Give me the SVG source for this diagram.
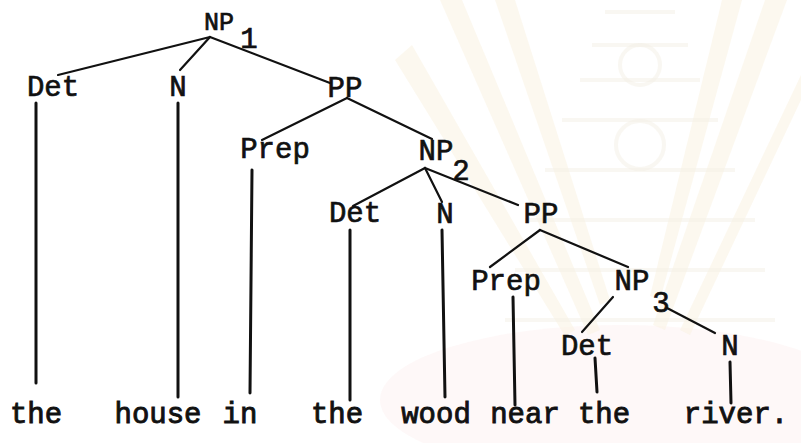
<svg xmlns="http://www.w3.org/2000/svg" width="801" height="443" viewBox="0 0 801 443">
  <style>
    .lbl { font-family: "Liberation Mono", "Courier New", monospace; font-size: 29px; fill: #111; stroke: #111; stroke-width: 0.7; text-anchor: middle; }
    .word { font-family: "Liberation Mono", "Courier New", monospace; font-size: 29px; fill: #111; stroke: #111; stroke-width: 0.9; text-anchor: middle; }
    .edge { stroke: #111; stroke-width: 2.2; stroke-linecap: round; fill: none; }
    .stem { stroke: #111; stroke-width: 3; stroke-linecap: round; fill: none; }
    .ray { fill: #faf3e1; opacity: 0.55; }
    .emb { fill: none; stroke: #f4efe6; stroke-width: 4; opacity: 0.5; }
  </style>

  <rect width="801" height="443" fill="#ffffff"/>

  <!-- faint background seal -->
  <g id="seal">
    <ellipse cx="620" cy="400" rx="240" ry="75" fill="#fdf5f5" opacity="0.7"/>
    <polygon class="ray" points="440,0 462,0 600,330 588,335"/>
    <polygon class="ray" points="495,0 515,0 610,300 600,305"/>
    <polygon class="ray" points="395,60 412,45 575,330 565,336"/>
    <polygon class="ray" points="765,0 787,0 665,330 653,325"/>
    <polygon class="ray" points="722,0 742,0 660,300 650,296"/>
    <polygon class="ray" points="801,75 801,100 690,335 680,330"/>
    <path class="emb" d="M605,12 L675,12 M592,45 L688,45 M580,80 L700,80 M562,120 L718,120 M545,170 L735,170 M525,220 L755,220 M515,270 L765,270 M505,320 L775,320"/>
    <circle cx="640" cy="65" r="20" class="emb"/>
    <circle cx="640" cy="145" r="24" class="emb"/>
  </g>

  <!-- connectors -->
  <g id="connectors">
    <line class="edge" x1="210" y1="37" x2="58" y2="75"/>
    <line class="edge" x1="210" y1="37" x2="180" y2="70"/>
    <line class="edge" x1="210" y1="37" x2="330" y2="83"/>
    <line class="stem" x1="36" y1="103" x2="36" y2="383"/>
    <line class="stem" x1="178" y1="103" x2="178" y2="397"/>
    <line class="edge" x1="347" y1="98" x2="262" y2="140"/>
    <line class="edge" x1="347" y1="98" x2="432" y2="139"/>
    <line class="stem" x1="252" y1="170" x2="250" y2="393"/>
    <line class="edge" x1="425" y1="168" x2="353" y2="206"/>
    <line class="edge" x1="425" y1="168" x2="442" y2="202"/>
    <line class="edge" x1="425" y1="168" x2="518" y2="205"/>
    <line class="stem" x1="350" y1="230" x2="350" y2="400"/>
    <line class="stem" x1="442" y1="230" x2="445" y2="397"/>
    <line class="edge" x1="540" y1="230" x2="490" y2="267"/>
    <line class="edge" x1="540" y1="230" x2="628" y2="267"/>
    <line class="stem" x1="513" y1="297" x2="515" y2="405"/>
    <line class="edge" x1="613" y1="297" x2="582" y2="332"/>
    <line class="edge" x1="667" y1="308" x2="715" y2="333"/>
    <line class="stem" x1="595" y1="358" x2="597" y2="392"/>
    <line class="stem" x1="730" y1="362" x2="731" y2="403"/>
  </g>

  <!-- tree nodes -->
  <g id="np1"><text class="lbl" x="219" y="30" style="font-size:25px">NP</text><text class="lbl" x="249" y="48">1</text></g>
  <g id="det1"><text class="lbl" x="53" y="96">Det</text></g>
  <g id="n1"><text class="lbl" x="178" y="96">N</text></g>
  <g id="pp1"><text class="lbl" x="345" y="97">PP</text></g>
  <g id="prep1"><text class="lbl" x="275" y="158">Prep</text></g>
  <g id="np2"><text class="lbl" x="436" y="160">NP</text><text class="lbl" x="461" y="180">2</text></g>
  <g id="det2"><text class="lbl" x="355" y="222">Det</text></g>
  <g id="n2"><text class="lbl" x="445" y="223">N</text></g>
  <g id="pp2"><text class="lbl" x="541" y="223">PP</text></g>
  <g id="prep2"><text class="lbl" x="506" y="290">Prep</text></g>
  <g id="np3"><text class="lbl" x="632" y="290">NP</text><text class="lbl" x="661" y="312">3</text></g>
  <g id="det3"><text class="lbl" x="587" y="355">Det</text></g>
  <g id="n3"><text class="lbl" x="730" y="355">N</text></g>

  <!-- terminal words -->
  <g id="words">
    <text class="word" x="36" y="423">the</text>
    <text class="word" x="158" y="423">house</text>
    <text class="word" x="240" y="423">in</text>
    <text class="word" x="337" y="423">the</text>
    <text class="word" x="436" y="423">wood</text>
    <text class="word" x="525" y="423">near</text>
    <text class="word" x="604" y="423">the</text>
    <text class="word" x="736" y="423">river.</text>
  </g>
</svg>
